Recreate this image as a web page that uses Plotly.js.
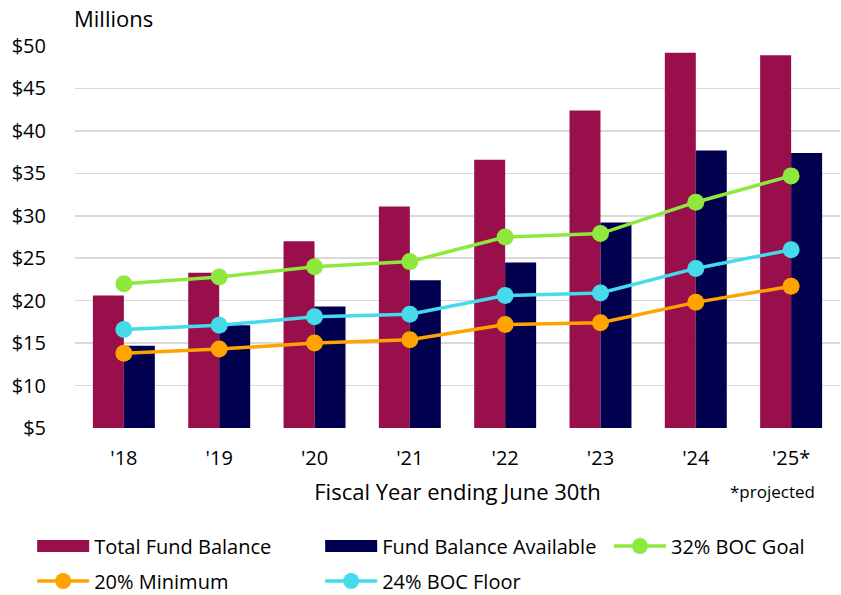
<!DOCTYPE html>
<html>
<head>
<meta charset="utf-8">
<script src="https://cdn.plot.ly/plotly-3.0.1.min.js"></script>
<style>html,body{margin:0;padding:0;background:#fff;}#chart{width:841px;height:595px;}</style>
</head>
<body>
<div id="chart"></div>
<script>
const years = ["'18", "'19", "'20", "'21", "'22", "'23", "'24", "'25*"];
const totalFundBalance = [20.6, 23.3, 27.0, 31.1, 36.6, 42.4, 49.2, 48.9];
const fundBalanceAvailable = [14.7, 17.1, 19.3, 22.4, 24.5, 29.2, 37.7, 37.4];
const bocGoal32 = [22.0, 22.8, 24.0, 24.6, 27.5, 27.9, 31.6, 34.7];
const minimum20 = [13.8, 14.3, 15.0, 15.4, 17.2, 17.4, 19.8, 21.7];
const bocFloor24 = [16.6, 17.1, 18.1, 18.4, 20.6, 20.9, 23.8, 26.0];
const yTicks = [5, 10, 15, 20, 25, 30, 35, 40, 45, 50];
const yTickLabels = ['$5', '$10', '$15', '$20', '$25', '$30', '$35', '$40', '$45', '$50'];

const FONT = '"Open Sans", Roboto, "Liberation Sans", sans-serif';

const lineTrace = (name, y, color, legend) => ({
  type: 'scatter', mode: 'lines+markers', name, x: years, y,
  line: {color, width: 3.5}, marker: {color, size: 17},
  legend, cliponaxis: false
});

const data = [
  {type: 'bar', name: 'Total Fund Balance', x: years, y: totalFundBalance,
   marker: {color: '#990F4B'}, legend: 'legend'},
  {type: 'bar', name: 'Fund Balance Available', x: years, y: fundBalanceAvailable,
   marker: {color: '#00004F'}, legend: 'legend'},
  lineTrace('32% BOC Goal', bocGoal32, '#8EE83E', 'legend3'),
  lineTrace('20% Minimum', minimum20, '#FFA300', 'legend2'),
  lineTrace('24% BOC Floor', bocFloor24, '#45DBEB', 'legend2')
];

const legendBase = {
  orientation: 'h', xanchor: 'left', yanchor: 'middle', x: -0.056,
  font: {family: FONT, size: 20, color: '#000'},
  itemwidth: 52,
  entrywidth: 221, entrywidthmode: 'pixels', traceorder: 'normal',
  bgcolor: 'rgba(0,0,0,0)'
};

const layout = {
  width: 841, height: 595,
  margin: {l: 75, r: 1, t: 46, b: 167, autoexpand: false},
  paper_bgcolor: '#fff', plot_bgcolor: '#fff',
  font: {family: FONT, size: 20, color: '#000'},
  barmode: 'group', bargap: 0.35, bargroupgap: 0,
  showlegend: true,
  xaxis: {
    type: 'category', tickvals: years, ticktext: years,
    showgrid: false, zeroline: false, showline: false, automargin: false,
    ticks: 'outside', ticklen: 12, tickcolor: 'rgba(0,0,0,0)',
    tickfont: {family: FONT, size: 20, color: '#000'},
    title: {text: 'Fiscal Year ending June 30th', font: {family: FONT, size: 22, color: '#000'}, standoff: 14}
  },
  yaxis: {
    range: [5, 50], tickmode: 'array', tickvals: yTicks, ticktext: yTickLabels,
    showgrid: true, gridcolor: '#d9d9d9', gridwidth: 1.5,
    zeroline: false, showline: false, automargin: false,
    ticks: 'outside', ticklen: 24, tickcolor: 'rgba(0,0,0,0)',
    tickfont: {family: FONT, size: 20, color: '#000'}
  },
  legend: Object.assign({}, legendBase, {y: -0.309}),
  legend2: Object.assign({}, legendBase, {y: -0.4005}),
  legend3: Object.assign({}, legendBase, {x: 0.698, y: -0.309, entrywidth: 130}),
  annotations: [
    {text: 'Millions', xref: 'paper', yref: 'paper', x: 0, y: 1.0, xanchor: 'left', yanchor: 'bottom',
     yshift: 11, xshift: -3, showarrow: false, font: {family: FONT, size: 22, color: '#000'}},
    {text: '*projected', xref: 'paper', yref: 'paper', x: 0.912, y: -0.167, xanchor: 'center', yanchor: 'middle',
     showarrow: false, font: {family: FONT, size: 17, color: '#000'}}
  ]
};

Plotly.newPlot('chart', data, layout, {displayModeBar: false, staticPlot: true}).then(function (gd) {
  // widen the bar legend swatches into the wide rectangles of the reference
  gd.querySelectorAll('.legend .traces .legendpoints path').forEach(function (p) {
    if (p.getAttribute('d') === 'M6,6H-6V-6H6Z') p.setAttribute('d', 'M26,6H-26V-6H26Z');
  });
});
</script>
</body>
</html>
